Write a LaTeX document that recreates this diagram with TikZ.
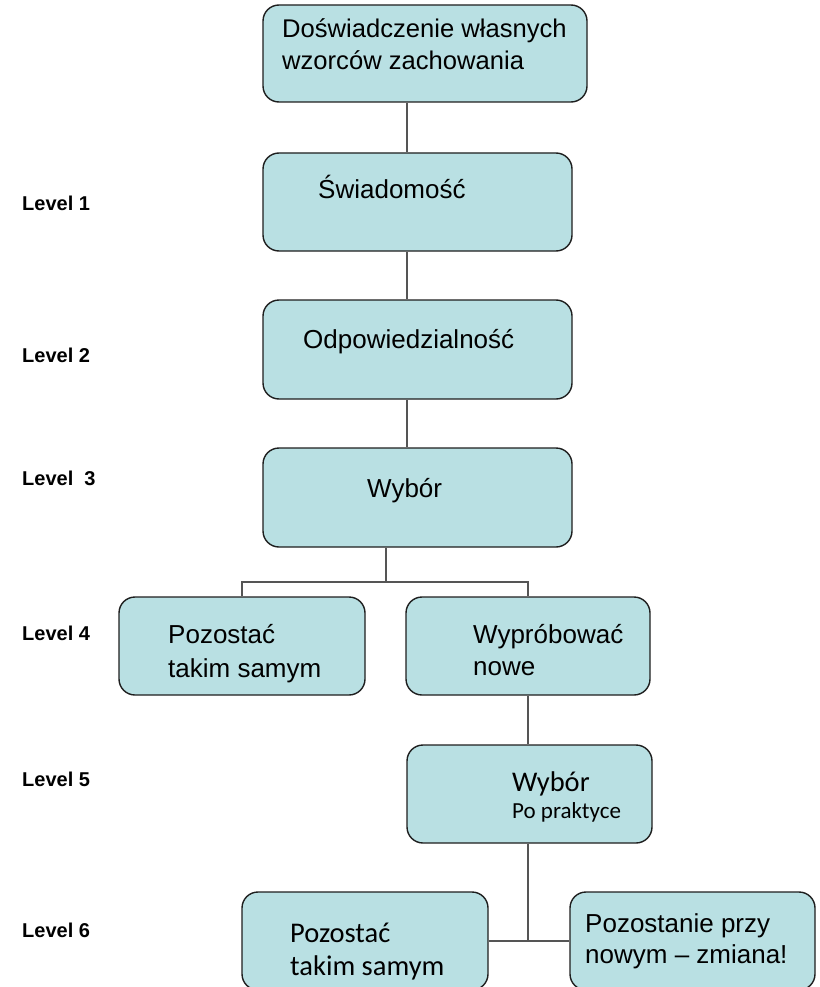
\documentclass[tikz,border=0pt]{standalone}
\usepackage{fontspec}
\setmainfont{Liberation Sans}
\newfontfamily\calfont{Carlito}
\definecolor{boxfill}{HTML}{B9E0E3}
\definecolor{boxline}{HTML}{1E1E1E}
\definecolor{connline}{HTML}{555555}
\begin{document}
\begin{tikzpicture}[x=1pt,y=-1pt,
  box/.style={draw=boxline, line width=1.4pt, fill=boxfill, rounded corners=16pt, inner sep=0pt},
  conn/.style={draw=connline, line width=1.1pt},
  txt/.style={anchor=base west, inner sep=0pt, font=\fontsize{26}{31}\selectfont},
  toptxt/.style={anchor=base west, inner sep=0pt, font=\fontsize{25.6}{31}\selectfont},
  caltxt/.style={anchor=base west, inner sep=0pt, font=\calfont\fontsize{28.5}{33}\selectfont},
  calsmall/.style={anchor=base west, inner sep=0pt, font=\calfont\fontsize{23}{27}\selectfont},
  lvl/.style={anchor=base west, inner sep=0pt, font=\bfseries\fontsize{20}{24}\selectfont}]
\useasboundingbox (0,0) rectangle (819,987);
\clip (0,0) rectangle (819,987);

% boxes
\node[box, minimum width=324pt, minimum height=97pt] (top) at (425,53.5) {};
\node[box, minimum width=309pt, minimum height=98pt] (sw) at (417.5,202) {};
\node[box, minimum width=309pt, minimum height=99pt] (odp) at (417.5,349.5) {};
\node[box, minimum width=309pt, minimum height=99pt] (wyb) at (417.5,497.5) {};
\node[box, minimum width=246pt, minimum height=98pt] (poz1) at (242,646) {};
\node[box, minimum width=244pt, minimum height=98pt] (wyp) at (528,646) {};
\node[box, minimum width=245pt, minimum height=98pt] (wyb2) at (529.5,794) {};
\node[box, minimum width=246pt, minimum height=98pt] (poz2) at (365,941) {};
\node[box, minimum width=245pt, minimum height=98pt] (pnew) at (692.5,941) {};

% texts
\node[toptxt] (t1a) at (282,38) {Doświadczenie własnych};
\node[toptxt] (t1b) at (282,70) {wzorców zachowania};
\node[txt] (t2) at (318,198) {Świadomość};
\node[txt] (t3) at (303,348) {Odpowiedzialność};
\node[txt] (t4) at (367,497) {Wybór};
\node[txt] (t5a) at (168,643) {Pozostać};
\node[txt] (t5b) at (168,677) {takim samym};
\node[txt] (t6a) at (473,643) {Wypróbować};
\node[txt] (t6b) at (473,675) {nowe};
\node[caltxt] (t7a) at (512,791) {Wybór};
\node[calsmall] (t7b) at (512,818) {Po praktyce};
\node[caltxt] (t8a) at (290,942) {Pozostać};
\node[caltxt] (t8b) at (290,975) {takim samym};
\node[txt] (t9a) at (585,932) {Pozostanie przy};
\node[txt] (t9b) at (585,963) {nowym – zmiana!};

% level labels
\node[lvl] (l1) at (22,210) {Level 1};
\node[lvl] (l2) at (22,362) {Level 2};
\node[lvl] (l3) at (22,485) {Level\ \ 3};
\node[lvl] (l4) at (22,640) {Level 4};
\node[lvl] (l5) at (22,786) {Level 5};
\node[lvl] (l6) at (22,937) {Level 6};

% connectors
\coordinate (c407) at (407,0);
\coordinate (fork) at (386,582);
\coordinate (j) at (528,941);
\draw[conn] (top.south -| c407) -- (sw.north -| c407);
\draw[conn] (sw.south -| c407) -- (odp.north -| c407);
\draw[conn] (odp.south -| c407) -- (wyb.north -| c407);
\draw[conn] (wyb.south -| fork) -- (fork);
\draw[conn] (poz1.north) |- (fork) -| (wyp.north);
\draw[conn] (wyp.south) -- (wyb2.north -| wyp.south);
\draw[conn] (wyb2.south -| j) -- (j);
\draw[conn] (poz2.east |- j) -- (pnew.west |- j);
\end{tikzpicture}
\end{document}
